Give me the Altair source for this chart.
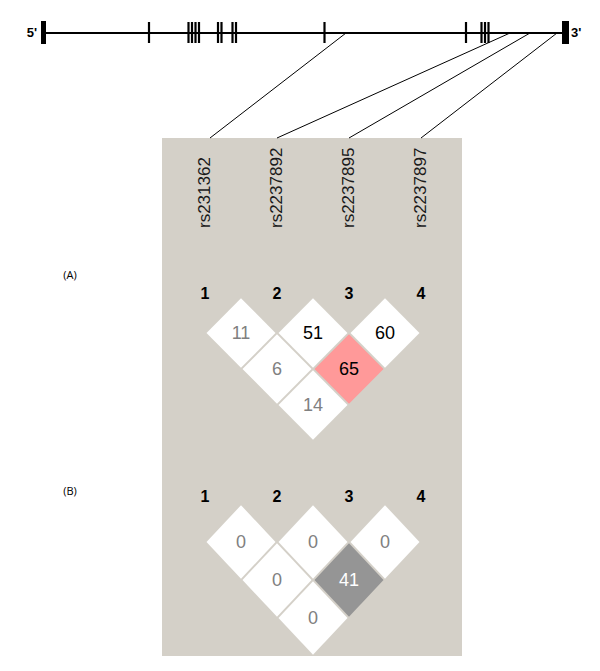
import altair as alt
import pandas as pd

# ---------------- data ----------------
snp_names = ["rs231362", "rs2237892", "rs2237895", "rs2237897"]
snp_gene_pos = [346, 510, 530, 557]          # where each SNP sits on the gene line
exon_pos = [149, 188.5, 192, 195.5, 199, 218, 221.5, 232.5, 236,
            324.5, 466, 481.5, 485, 488.5]    # internal exons
utr5 = [41, 46]
utr3 = [562, 569]

pair_i = [1, 2, 3, 1, 2, 1]
pair_j = [2, 3, 4, 3, 4, 4]
ld_a = [11, 51, 60, 6, 65, 14]
cls_a = ["low", "mid", "mid", "low", "high", "low"]
ld_b = [0, 0, 0, 0, 41, 0]
cls_b = ["low", "low", "low", "low", "dark", "low"]
marker_numbers = ["1", "2", "3", "4"]
panel_names = ["(A)", "(B)"]

# ---------------- layout ----------------
W, H = 584, 655
X0, Y0 = 8, 8
GENE_Y = 33
MX0, MDX = 205, 72
PANEL = dict(x=162, x2=462, y=138, y2=656)
panels = [
    dict(name="(A)", title_y=276, label_y=294, row1=333, step=36, vals=ld_a, cls=cls_a),
    dict(name="(B)", title_y=492, label_y=497, row1=542, step=38, vals=ld_b, cls=cls_b),
]

xs = alt.Scale(domain=[X0, X0 + W], nice=False, zero=False)
ys = alt.Scale(domain=[Y0, Y0 + H], nice=False, zero=False, reverse=True)


def X(f):
    return alt.X(f, type="quantitative", scale=xs, axis=None)


def Y(f):
    return alt.Y(f, type="quantitative", scale=ys, axis=None)


def mx(i):
    return MX0 + MDX * (i - 1)


layers = []

# grey panel
layers.append(
    alt.Chart(pd.DataFrame([PANEL])).mark_rect(color="#d4d0c8").encode(
        x=X("x"), x2="x2", y=Y("y"), y2="y2")
)

# gene line
layers.append(
    alt.Chart(pd.DataFrame([dict(x=utr5[1], x2=utr3[0], y=GENE_Y)])).mark_rule(
        color="black", strokeWidth=2.2).encode(x=X("x"), x2="x2", y=Y("y"))
)
# exon ticks
layers.append(
    alt.Chart(pd.DataFrame(dict(x=exon_pos, y=GENE_Y - 11, y2=GENE_Y + 10))).mark_rule(
        color="black", strokeWidth=2.2).encode(x=X("x"), y=Y("y"), y2="y2")
)
# UTR blocks
layers.append(
    alt.Chart(pd.DataFrame(dict(x=[utr5[0], utr3[0]], x2=[utr5[1], utr3[1]],
                                y=[GENE_Y - 12] * 2, y2=[GENE_Y + 11] * 2))).mark_rect(
        color="black").encode(x=X("x"), x2="x2", y=Y("y"), y2="y2")
)
layers.append(
    alt.Chart(pd.DataFrame(dict(t=["5'"], x=[utr5[0] - 4], y=[GENE_Y]))).mark_text(
        font="Liberation Sans", fontWeight="bold", fontSize=13, baseline="middle", align="right").encode(
        x=X("x"), y=Y("y"), text="t:N")
)
layers.append(
    alt.Chart(pd.DataFrame(dict(t=["3'"], x=[utr3[1] + 2], y=[GENE_Y]))).mark_text(
        font="Liberation Sans", fontWeight="bold", fontSize=13, baseline="middle", align="left").encode(
        x=X("x"), y=Y("y"), text="t:N")
)
# connectors
conn = pd.DataFrame(dict(x=snp_gene_pos, y=[GENE_Y] * 4,
                         x2=[mx(i) for i in range(1, 5)], y2=[PANEL["y"]] * 4))
conn.loc[0, "x2"] = 210
layers.append(
    alt.Chart(conn).mark_rule(color="black", strokeWidth=1).encode(
        x=X("x"), y=Y("y"), x2="x2", y2="y2")
)
# SNP names
layers.append(
    alt.Chart(pd.DataFrame(dict(t=snp_names, x=[mx(i) for i in range(1, 5)], y=[228] * 4))).mark_text(
        font="Liberation Sans", fontSize=17, angle=270, align="left",
        baseline="middle", color="#1a1a1a").encode(x=X("x"), y=Y("y"), text="t:N")
)

fill_scale = alt.Scale(domain=["low", "mid", "high", "dark"],
                       range=["#ffffff", "#ffffff", "#ff9999", "#959595"])
text_scale = alt.Scale(domain=["low", "mid", "high", "dark"],
                       range=["#808080", "#000000", "#000000", "#ffffff"])

for p in panels:
    vh = (p["step"] - 1.2) / 34.5
    shape = f"M-1,0L0,-{vh:.3f}L1,0L0,{vh:.3f}Z"
    df = pd.DataFrame(dict(i=pair_i, j=pair_j, v=p["vals"], c=p["cls"]))
    df["x"] = [(mx(a) + mx(b)) / 2 for a, b in zip(df.i, df.j)]
    df["y"] = [p["row1"] + (b - a - 1) * p["step"] for a, b in zip(df.i, df.j)]
    layers.append(
        alt.Chart(df).mark_point(filled=True, opacity=1, shape=shape, size=69 ** 2, strokeWidth=0).encode(
            x=X("x"), y=Y("y"), color=alt.Color("c:N", scale=fill_scale, legend=None))
    )
    layers.append(
        alt.Chart(df).mark_text(font="Liberation Sans", fontSize=18, baseline="middle", dy=1).encode(
            x=X("x"), y=Y("y"), text="v:Q", color=alt.Color("c:N", scale=text_scale, legend=None))
    )
    layers.append(
        alt.Chart(pd.DataFrame(dict(t=marker_numbers, x=[mx(i) for i in range(1, 5)],
                                    y=[p["label_y"]] * 4))).mark_text(
            font="Liberation Sans", fontWeight="bold", fontSize=16, baseline="middle", color="black").encode(
            x=X("x"), y=Y("y"), text="t:N")
    )
    layers.append(
        alt.Chart(pd.DataFrame(dict(t=[p["name"]], x=[70], y=[p["title_y"]]))).mark_text(
            font="Open Sans", fontSize=11, baseline="middle", color="black").encode(
            x=X("x"), y=Y("y"), text="t:N")
    )

chart = alt.layer(*layers).resolve_scale(color="independent").properties(
    width=W, height=H, padding=0, autosize=alt.AutoSizeParams(type="none")
).configure_view(stroke=None)

chart.save("out.html", embed_options={"renderer": "svg", "actions": False})
